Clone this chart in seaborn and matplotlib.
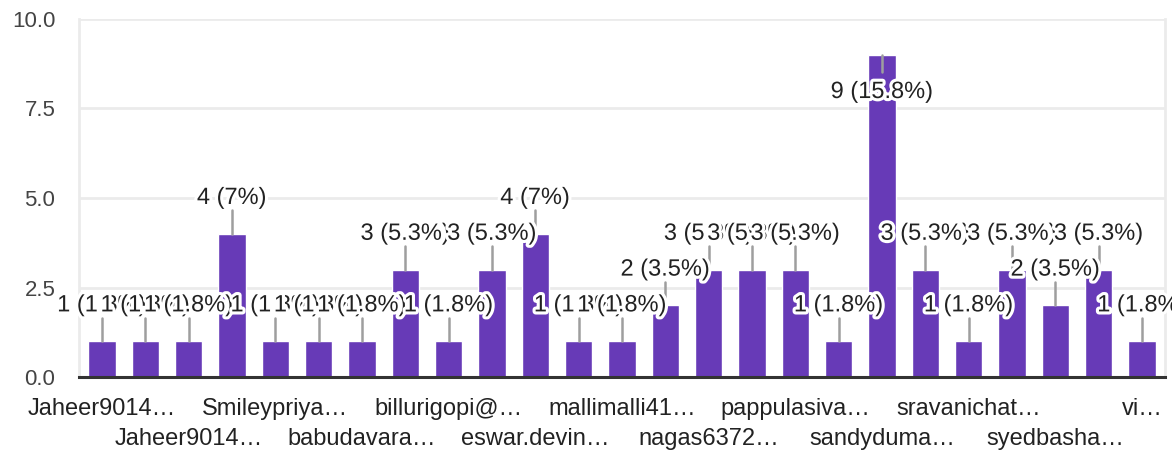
import matplotlib
matplotlib.use("Agg")
import matplotlib.pyplot as plt
import matplotlib.patheffects as pe
import seaborn as sns
import pandas as pd

# ---- data ----
values = [1, 1, 1, 4, 1, 1, 1, 3, 1, 3, 4, 1, 1, 2, 3, 3, 3, 1, 9, 3, 1, 3, 2, 3, 1]
tick_labels = ["Jaheer9014…", "", "Jaheer9014…", "", "Smileypriya…", "", "babudavara…", "",
               "billurigopi@…", "", "eswar.devin…", "", "mallimalli41…", "", "nagas6372…", "",
               "pappulasiva…", "", "sandyduma…", "", "sravanichat…", "", "syedbasha…", "", "vi…"]
y_ticks = [0.0, 2.5, 5.0, 7.5, 10.0]

total = sum(values)
df = pd.DataFrame({"pos": list(range(len(values))), "count": values})

sns.set_theme(style="white")
plt.rcParams['font.family'] = ['Liberation Sans', 'DejaVu Sans']

fig = plt.figure(figsize=(11.72, 4.53), dpi=100)
ax = fig.add_axes([79/1172, 1 - 377/453, (1165 - 79)/1172, (377 - 19)/453])

sns.barplot(data=df, x="pos", y="count", color="#673AB7", saturation=1, width=0.63, ax=ax, zorder=2)

ax.set_ylim(0, 10)
ax.set_xlim(-0.53, len(values) - 0.47)
ax.set_yticks(y_ticks)
ax.set_yticklabels([f"{t:.1f}" for t in y_ticks], fontsize=16, color="#444444")
ax.yaxis.grid(True, color="#ebebeb", linewidth=2, zorder=0)
ax.set_axisbelow(True)
ax.tick_params(axis="y", length=0, pad=17)
ax.tick_params(axis="x", length=0, pad=15)

# two-row tick labels: every other label shown
shown = [i for i, t in enumerate(tick_labels) if t]
ax.set_xticks(shown)
lbls = []
for k, i in enumerate(shown):
    lbls.append(tick_labels[i] if k % 2 == 0 else "\n" + tick_labels[i])
ax.set_xticklabels(lbls, fontsize=17, color="#222222", linespacing=1.5)
ax.set_xlabel("")
ax.set_ylabel("")

for s in ["left", "right"]:
    ax.spines[s].set_color("#ebebeb")
    ax.spines[s].set_linewidth(2)
ax.spines["top"].set_visible(False)
ax.spines["bottom"].set_color("#333333")
ax.spines["bottom"].set_linewidth(2.2)

# annotations
for i, v in enumerate(values):
    pct = round(v / total * 100, 1)
    pct_s = f"{pct:g}"
    label = f"{v} ({pct_s}%)"
    if v + 1.2 <= 10:
        ax.plot([i, i], [v, v + 0.66], color="#9e9e9e", linewidth=1.8, zorder=3)
        ty = v + 1.0
    else:
        ax.plot([i, i], [v, v - 0.48], color="#9e9e9e", linewidth=1.8, zorder=3)
        ty = v - 1.04
    ax.text(i, ty, label, ha="center", va="center", fontsize=17, color="#222222", zorder=4,
            path_effects=[pe.withStroke(linewidth=4.5, foreground="white")])

fig.savefig("out.png", dpi=100)
